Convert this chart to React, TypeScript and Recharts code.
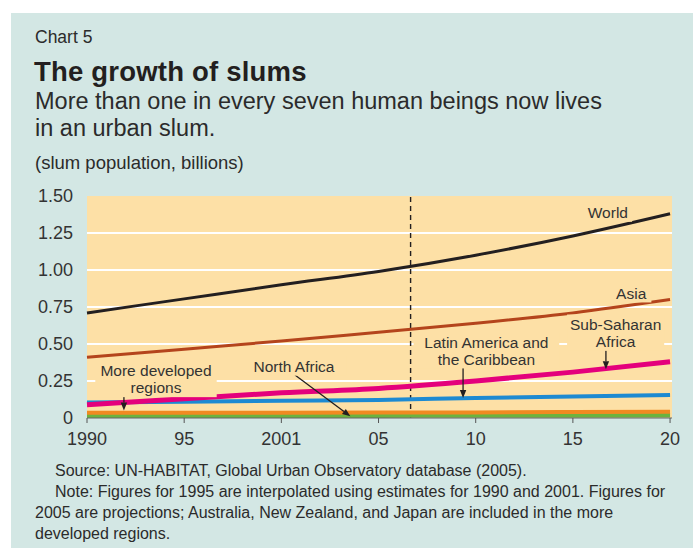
import React from "react";
import {
  LineChart,
  Line,
  XAxis,
  YAxis,
  CartesianGrid,
  ReferenceLine,
  ReferenceDot,
} from "recharts";

// ─── Data (slum population, billions) ───────────────────────────────────────

const yearLabels = ["1990", "95", "2001", "05", "10", "15", "20"];
const world = [0.71, 0.805, 0.9, 0.99, 1.1, 1.23, 1.38];
const asia = [0.41, 0.465, 0.52, 0.58, 0.64, 0.71, 0.8];
const subSaharanAfrica = [0.09, 0.13, 0.17, 0.2, 0.25, 0.31, 0.38];
const latinAmerica = [0.105, 0.11, 0.117, 0.122, 0.135, 0.145, 0.155];
const moreDeveloped = [0.035, 0.035, 0.036, 0.037, 0.038, 0.04, 0.042];
const northAfrica = [0.015, 0.015, 0.016, 0.016, 0.017, 0.017, 0.018];
const yTicks = [0, 0.25, 0.5, 0.75, 1.0, 1.25, 1.5];

const INK = "#231f20";
const PEACH = "#fde0a6";
const TEAL = "#d3e7e4";
const FONT = '"Liberation Sans", Arial, sans-serif';

const data = yearLabels.map((label, i) => ({
  pos: i,
  label,
  world: world[i],
  asia: asia[i],
  ssa: subSaharanAfrica[i],
  latin: latinAmerica[i],
  developed: moreDeveloped[i],
  nafrica: northAfrica[i],
}));

// annotation labels, in chart coordinates (x = tick index)
const notes = [
  { x: 5.36, y: 1.39, lines: ["World"] },
  { x: 5.6, y: 0.845, lines: ["Asia"] },
  { x: 5.44, y: 0.635, lines: ["Sub-Saharan", "Africa"] },
  { x: 4.11, y: 0.514, lines: ["Latin America and", "the Caribbean"] },
  { x: 0.71, y: 0.32, lines: ["More developed", "regions"] },
  { x: 2.13, y: 0.35, lines: ["North Africa"] },
];

const arrows = [
  { from: [5.34, 0.455], to: [5.34, 0.33] },
  { from: [3.87, 0.34], to: [3.87, 0.135] },
  { from: [0.38, 0.25], to: [0.38, 0.05] },
  { from: [2.14, 0.29], to: [2.71, 0.012] },
];

// ─── Helpers ─────────────────────────────────────────────────────────────────

function NoteLabel({ cx, cy, lines }: { cx: number; cy: number; lines: string[] }) {
  const lh = 17;
  const w = Math.max(...lines.map((l) => l.length)) * 8.1 + 8;
  const h = lines.length * lh + 2;
  return (
    <g>
      <rect x={cx - w / 2} y={cy - lh / 2 - 1} width={w} height={h} fill={PEACH} />
      {lines.map((l, i) => (
        <text
          key={l}
          x={cx}
          y={cy + i * lh}
          dy="0.36em"
          textAnchor="middle"
          fontSize={15.5}
          fontFamily={FONT}
          fill="#333"
        >
          {l}
        </text>
      ))}
    </g>
  );
}

function Arrow(p: any) {
  const { x1, y1, x2, y2 } = p;
  const ang = Math.atan2(y2 - y1, x2 - x1);
  const len = 8;
  const hw = 3.2;
  const bx = x2 - len * Math.cos(ang);
  const by = y2 - len * Math.sin(ang);
  const px = -Math.sin(ang) * hw;
  const py = Math.cos(ang) * hw;
  return (
    <g>
      <line x1={x1} y1={y1} x2={bx} y2={by} stroke={INK} strokeWidth={1.3} />
      <polygon
        points={`${x2},${y2} ${bx + px},${by + py} ${bx - px},${by - py}`}
        fill={INK}
      />
    </g>
  );
}

// ─── Main component ──────────────────────────────────────────────────────────

export default function App() {
  return (
    <div
      style={{
        position: "absolute",
        left: 0,
        top: 0,
        width: 693,
        height: 548,
        background: "#fff",
        fontFamily: FONT,
        color: INK,
        overflow: "hidden",
      }}
    >
      <div
        style={{
          position: "absolute",
          left: 11,
          top: 13,
          width: 682,
          height: 535,
          background: TEAL,
        }}
      />

      {/* ── Headings ───────────────────────────────────────────────────── */}
      <div style={{ position: "absolute", left: 35, top: 27, fontSize: 17.5, color: "#2b2b2b" }}>
        Chart 5
      </div>
      <div
        style={{
          position: "absolute",
          left: 34,
          top: 56,
          fontSize: 27.5,
          fontWeight: "bold",
          letterSpacing: 0.2,
        }}
      >
        The growth of slums
      </div>
      <div
        style={{
          position: "absolute",
          left: 35,
          top: 88,
          fontSize: 23.5,
          lineHeight: "27px",
          color: "#2b2b2b",
        }}
      >
        More than one in every seven human beings now lives
        <br />
        in an urban slum.
      </div>
      <div style={{ position: "absolute", left: 35, top: 152, fontSize: 18.5, color: "#2b2b2b" }}>
        (slum population, billions)
      </div>

      {/* ── Chart ──────────────────────────────────────────────────────── */}
      <div style={{ position: "absolute", left: 0, top: 0 }}>
        <LineChart
          width={693}
          height={548}
          data={data}
          margin={{ top: 196, right: 21, bottom: 100, left: 27 }}
        >
          <CartesianGrid
            vertical={false}
            horizontalValues={[0.25, 0.5, 0.75, 1.0, 1.25]}
            stroke="#ffffff"
            strokeWidth={2.2}
            fill={PEACH}
            fillOpacity={1}
          />
          <XAxis
            dataKey="pos"
            type="number"
            domain={[0, 6.02]}
            ticks={[0, 1, 2, 3, 4, 5, 6]}
            tickFormatter={(v: number) => yearLabels[v] ?? ""}
            height={30}
            tickSize={5}
            tickMargin={9}
            axisLine={{ stroke: "#666" }}
            tickLine={{ stroke: "#555" }}
            tick={{ fontSize: 18, fill: "#333", fontFamily: FONT }}
            allowDecimals={false}
          />
          <YAxis
            type="number"
            domain={[0, 1.5]}
            ticks={yTicks}
            tickFormatter={(v: number) => (v === 0 ? "0" : v.toFixed(2))}
            width={60}
            tickSize={0}
            tickMargin={14}
            axisLine={false}
            tickLine={false}
            tick={{ fontSize: 18, fill: "#333", fontFamily: FONT }}
          />

          {/* label boxes hide the gridlines behind them */}
          {notes.map((n) => (
            <ReferenceDot
              key={n.lines[0]}
              x={n.x}
              y={n.y}
              r={0}
              ifOverflow="visible"
              shape={(p: any) => <NoteLabel cx={p.cx} cy={p.cy} lines={n.lines} />}
            />
          ))}

          <ReferenceLine x={3.33} stroke={INK} strokeWidth={1.4} strokeDasharray="5 4" />

          <Line type="monotone" dataKey="nafrica" stroke="#6cb33f" strokeWidth={4.5} dot={false} activeDot={false} isAnimationActive={false} />
          <Line type="monotone" dataKey="developed" stroke="#f18a21" strokeWidth={4} dot={false} activeDot={false} isAnimationActive={false} />
          <Line type="monotone" dataKey="latin" stroke="#1d8ad2" strokeWidth={4} dot={false} activeDot={false} isAnimationActive={false} />
          <Line type="monotone" dataKey="ssa" stroke="#e4007c" strokeWidth={5} dot={false} activeDot={false} isAnimationActive={false} />
          <Line type="monotone" dataKey="asia" stroke="#b4441c" strokeWidth={3} dot={false} activeDot={false} isAnimationActive={false} />
          <Line type="monotone" dataKey="world" stroke={INK} strokeWidth={3} dot={false} activeDot={false} isAnimationActive={false} />

          {arrows.map((a, i) => (
            <ReferenceLine
              key={i}
              segment={[
                { x: a.from[0], y: a.from[1] },
                { x: a.to[0], y: a.to[1] },
              ]}
              ifOverflow="visible"
              shape={(p: any) => <Arrow {...p} />}
            />
          ))}
        </LineChart>
      </div>

      {/* ── Source / note ──────────────────────────────────────────────── */}
      <div
        style={{
          position: "absolute",
          left: 35,
          top: 460,
          width: 655,
          fontSize: 16,
          lineHeight: "21px",
          color: "#2b2b2b",
          whiteSpace: "nowrap",
        }}
      >
        <div style={{ paddingLeft: 20 }}>
          Source: UN-HABITAT, Global Urban Observatory database (2005).
        </div>
        <div style={{ paddingLeft: 20 }}>
          Note: Figures for 1995 are interpolated using estimates for 1990 and 2001. Figures for
        </div>
        <div>2005 are projections; Australia, New Zealand, and Japan are included in the more</div>
        <div>developed regions.</div>
      </div>
    </div>
  );
}
